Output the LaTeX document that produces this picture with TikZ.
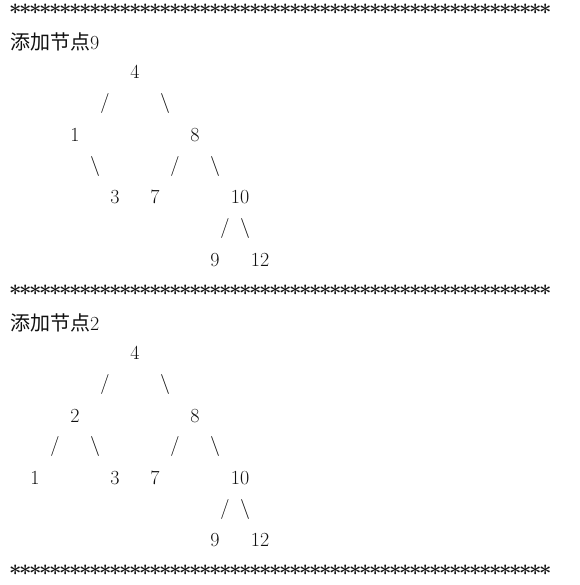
\documentclass[tikz,border=0pt]{standalone}
\usepackage{fontspec}
\newfontfamily\cjk{Noto Sans CJK SC}
\usepackage{tikz}
\definecolor{konsolYazi}{HTML}{101010}
\newcommand\yildizSatiri{\foreach \i in {1,...,54}{\makebox[10pt]{*}}}
\tikzset{
  konsol/.style={font=\fontsize{20}{24}\selectfont, text=konsolYazi, inner sep=0pt},
  rakam/.style={konsol, anchor=base, yshift=-6.5pt},
  egik/.style={konsol, anchor=base, yshift=-5pt},
  yildiz/.style={konsol, font=\fontsize{22}{24}\selectfont\bfseries, anchor=base west, yshift=-10.3pt},
  baslik/.style={konsol, anchor=base west, yshift=-8.2pt}
}

\begin{document}
\begin{tikzpicture}[x=10pt,y=-31.2pt]
\useasboundingbox (0pt,10pt) rectangle (579pt,-575pt);
% yildiz satirlari
\node[yildiz] (ust) at (1,0) {\yildizSatiri};
\node[yildiz] (orta) at (1,9) {\yildizSatiri};
\node[yildiz] (alt) at (1,18) {\yildizSatiri};
% birinci agac
\begin{scope}
\node[baslik] (bas1) at (1,1) {{\cjk 添加节点}9};
\node[rakam] (a4) at (13.5,2) {4};
\node[egik] (a4sol) at (10.5,3) {/}; \node[egik] (a4sag) at (16.5,3) {\textbackslash};
\node[rakam] (a1) at (7.5,4) {1}; \node[rakam] (a8) at (19.5,4) {8};
\node[egik] (a1sag) at (9.5,5) {\textbackslash};
\node[egik] (a8sol) at (17.5,5) {/}; \node[egik] (a8sag) at (21.5,5) {\textbackslash};
\node[rakam] (a3) at (11.5,6) {3}; \node[rakam] (a7) at (15.5,6) {7};
\node[rakam] (a10) at (24,6) {10};
\node[egik] (a10sol) at (22.5,7) {/}; \node[egik] (a10sag) at (24.5,7) {\textbackslash};
\node[rakam] (a9) at (21.5,8) {9}; \node[rakam] (a12) at (26,8) {12};
\end{scope}
% ikinci agac
\begin{scope}[yshift=-280.8pt]
\node[baslik] (bas2) at (1,1) {{\cjk 添加节点}2};
\node[rakam] (b4) at (13.5,2) {4};
\node[egik] (b4sol) at (10.5,3) {/}; \node[egik] (b4sag) at (16.5,3) {\textbackslash};
\node[rakam] (b2) at (7.5,4) {2}; \node[rakam] (b8) at (19.5,4) {8};
\node[egik] (b2sol) at (5.5,5) {/}; \node[egik] (b2sag) at (9.5,5) {\textbackslash};
\node[egik] (b8sol) at (17.5,5) {/}; \node[egik] (b8sag) at (21.5,5) {\textbackslash};
\node[rakam] (b1) at (3.5,6) {1};
\node[rakam] (b3) at (11.5,6) {3}; \node[rakam] (b7) at (15.5,6) {7};
\node[rakam] (b10) at (24,6) {10};
\node[egik] (b10sol) at (22.5,7) {/}; \node[egik] (b10sag) at (24.5,7) {\textbackslash};
\node[rakam] (b9) at (21.5,8) {9}; \node[rakam] (b12) at (26,8) {12};
\end{scope}
\end{tikzpicture}
\end{document}
